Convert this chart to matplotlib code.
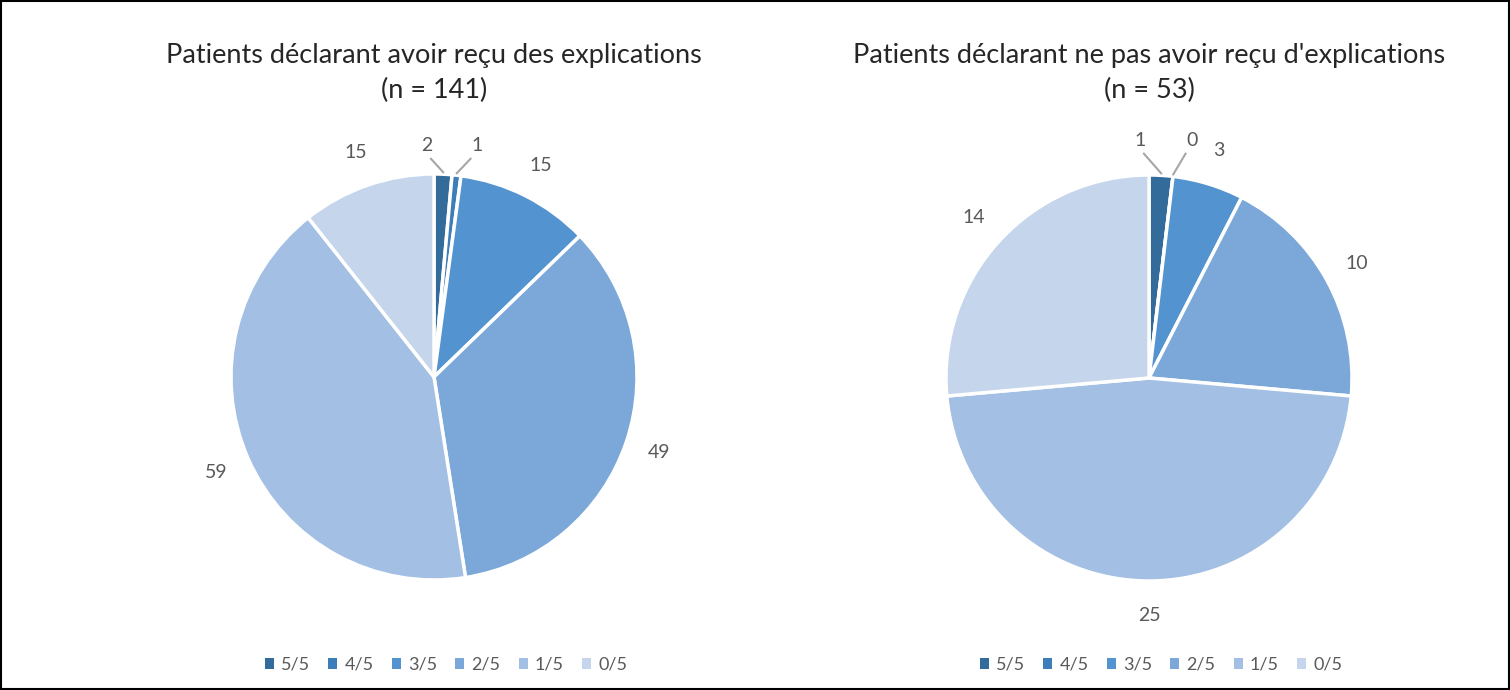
import matplotlib
matplotlib.use("Agg")
import matplotlib.pyplot as plt
from matplotlib.patches import Rectangle, Patch
import numpy as np

plt.rcParams['font.family'] = ['Lato', 'DejaVu Sans']

categories = ["5/5", "4/5", "3/5", "2/5", "1/5", "0/5"]
values_left = [2, 1, 15, 49, 59, 15]
values_right = [1, 0, 3, 10, 25, 14]
title_left = "Patients déclarant avoir reçu des explications\n(n = 141)"
title_right = "Patients déclarant ne pas avoir reçu d'explications\n(n = 53)"
colors = ["#336B9B", "#3D7DBA", "#5393CF", "#7BA8D9", "#A3BFE3", "#C5D5EB"]

W, H = 1510, 690
fig = plt.figure(figsize=(W / 100, H / 100), dpi=100)
fig.patch.set_facecolor("white")

R = 203
LIM = 1.3
side = 2 * R * LIM
gray = "#595959"

# manual label positions for tiny slices (index -> (x, y)) in radius units
tiny_left = {0: (-0.035, 1.14), 1: (0.21, 1.14)}
tiny_right = {0: (-0.045, 1.17), 1: (0.21, 1.17)}


def draw(cx, cy, vals, title, tiny):
    ax = fig.add_axes([(cx - side / 2) / W, (H - cy - side / 2) / H, side / W, side / H])
    wedges, _ = ax.pie(vals, colors=colors, startangle=90, counterclock=False,
                       wedgeprops=dict(edgecolor="white", linewidth=2.5), radius=1)
    ax.set_xlim(-LIM, LIM)
    ax.set_ylim(-LIM, LIM)
    ax.set_aspect("equal")
    ax.axis("off")
    for i, (w, v) in enumerate(zip(wedges, vals)):
        ang = np.deg2rad((w.theta1 + w.theta2) / 2)
        if i in tiny:
            lx, ly = tiny[i]
            ex, ey = np.cos(ang), np.sin(ang)
            ax.plot([ex * 1.01, lx + (0.02 if i == 0 else -0.03)],
                    [ey * 1.01, ly - 0.065], color="#A6A6A6", lw=1.5)
            ax.text(lx, ly, str(v), ha="center", va="center", fontsize=14, color=gray)
        else:
            r = 1.17
            ax.text(r * np.cos(ang), r * np.sin(ang), str(v), ha="center", va="center",
                    fontsize=14, color=gray)
    fig.text(cx / W, 1 - 73 / H, title, ha="center", va="center", fontsize=19.5,
             color="#262626", linespacing=1.45)
    handles = [Patch(facecolor=c, edgecolor="none") for c in colors]
    fig.legend(handles, categories, loc="center", bbox_to_anchor=((cx + 12) / W, 1 - 665 / H),
               ncol=6, frameon=False, fontsize=13, handlelength=0.5, handleheight=0.5,
               handletextpad=0.4, columnspacing=1.0, labelcolor=gray)


draw(434, 377, values_left, title_left, tiny_left)
draw(1149, 378, values_right, title_right, tiny_right)

fig.add_artist(Rectangle((0.0008, 0.0015), 0.9984, 0.997, transform=fig.transFigure,
                         fill=False, edgecolor="black", linewidth=1.5))

fig.savefig("out.png", dpi=100, facecolor="white")
